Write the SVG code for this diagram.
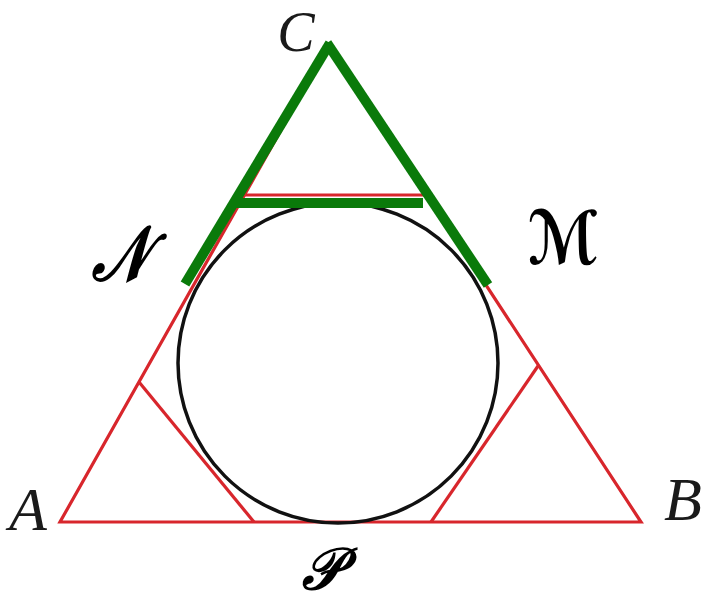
<svg xmlns="http://www.w3.org/2000/svg" width="708" height="603" viewBox="0 0 708 603">
<style>
.red{stroke:#d8262c;stroke-width:3.2;fill:none;stroke-linejoin:miter}
.circ{stroke:#111;stroke-width:3.5;fill:none}
.grn{stroke:#0a7a0a;stroke-width:10;fill:none;stroke-linecap:butt}
.lab{font-family:"Liberation Serif","DejaVu Serif",serif;font-style:italic;fill:#1a1a1a}
.scr{font-family:"DejaVu Serif","DejaVu Sans","Noto Sans",serif;font-style:italic;font-weight:bold;fill:#000;font-size:60px;text-anchor:middle}
</style>
<rect width="708" height="603" fill="#fff"/>
<g id="figure">
<polygon id="triangle" class="red" points="60,522 641,522 329,45"/>
<circle id="incircle" class="circ" cx="338" cy="363" r="160"/>
<line id="cutTop" class="red" x1="244" y1="195" x2="427" y2="195"/>
<line id="cutLeft" class="red" x1="139" y1="382" x2="254" y2="522"/>
<line id="cutRight" class="red" x1="538" y1="366" x2="431" y2="522"/>
</g>
<g id="connectors">
<line class="grn" x1="330" y1="43" x2="185" y2="284"/>
<line class="grn" x1="327" y1="43" x2="488" y2="285"/>
<line class="grn" x1="232" y1="203" x2="423" y2="203"/>
</g>
<g id="labels">
<text id="lC" class="lab" x="296" y="51" font-size="56" text-anchor="middle">C</text>
<text id="lA" class="lab" x="28" y="530" font-size="62" text-anchor="middle">A</text>
<text id="lB" class="lab" x="683" y="520" font-size="62" text-anchor="middle">B</text>
<text id="lN" class="scr" transform="translate(121,280) scale(1,1.27)">𝒩</text>
<text id="lM" class="scr" transform="translate(563,264) scale(1,1.23)">ℳ</text>
<text id="lP" class="scr" style="font-size:56px" transform="translate(322,589) scale(1,1.04)">𝒫</text>
</g>
</svg>
